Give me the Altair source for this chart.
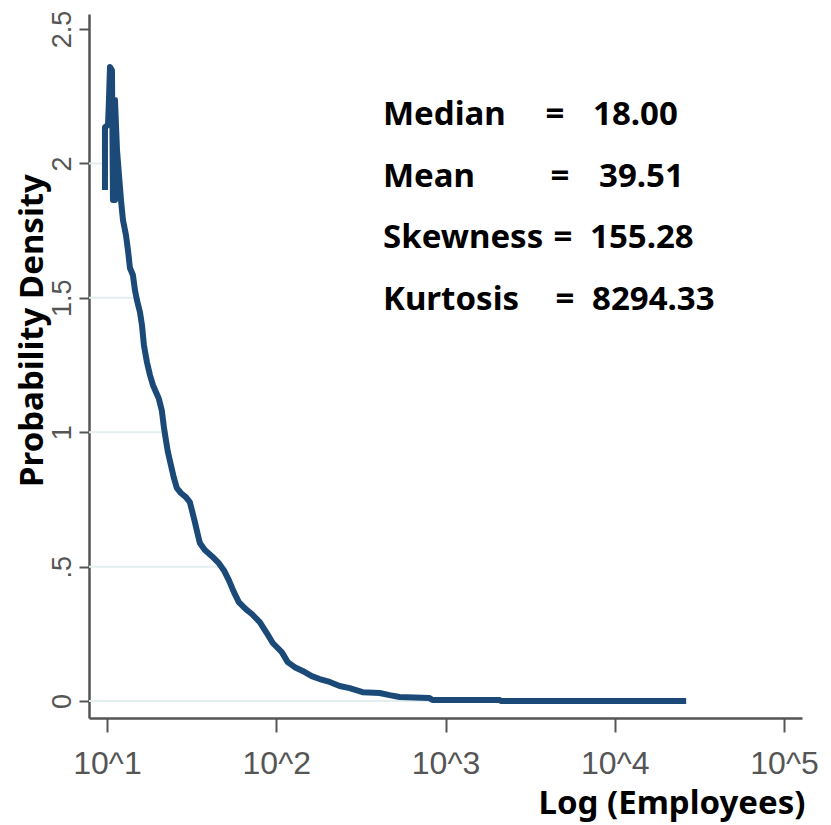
import altair as alt
import pandas as pd

# Kernel density of firm size, listed in drawing order along the curve
employees = [9.73, 9.73, 10.14, 10.27, 10.42, 10.70, 10.85, 11.15, 11.15, 11.46,
             11.77, 12.10, 12.43, 12.94, 13.30, 13.67, 14.23, 14.63, 15.03, 15.66,
             16.09, 16.53, 17.22, 17.94, 18.68, 19.46, 20.27, 21.11, 21.69, 22.29,
             22.91, 23.86, 24.85, 25.88, 27.33, 29.25, 30.87, 31.73, 33.05, 34.43,
             35.38, 37.86, 41.65, 45.80, 49.02, 52.46, 56.14, 60.09, 66.09, 71.71,
             79.94, 87.91, 95.37, 107.8, 116.9, 128.6, 143.3, 162.0, 180.6, 206.9,
             236.9, 271.4, 323.9, 408.0, 467.3, 535.3, 804.6, 838.0, 2083, 2140, 26410]
density = [1.901, 2.135, 2.143, 2.236, 2.359, 2.347, 1.864, 1.864, 2.236, 2.050,
           1.957, 1.864, 1.789, 1.734, 1.678, 1.611, 1.585, 1.529, 1.492, 1.447,
           1.399, 1.324, 1.261, 1.213, 1.176, 1.150, 1.124, 1.079, 1.019, 0.971,
           0.926, 0.878, 0.830, 0.792, 0.774, 0.759, 0.740, 0.711, 0.666, 0.618,
           0.588, 0.562, 0.539, 0.513, 0.487, 0.450, 0.406, 0.368, 0.342, 0.324,
           0.294, 0.253, 0.216, 0.182, 0.145, 0.126, 0.112, 0.093, 0.082, 0.071,
           0.056, 0.048, 0.033, 0.030, 0.022, 0.015, 0.011, 0.004, 0.004, 0.0, 0.0]

# Faint reference lines and where each one stops
grid_levels = [0.0, 0.5, 1.0, 1.5, 2.0]
grid_ends = [26410, 49.0, 22.0, 15.0, 9.7]

# Summary statistics shown in the upper right
stat_names = ["Median", "Mean", "Skewness", "Kurtosis"]
stat_values = ["18.00", "39.51", "155.28", "8294.33"]

y_ticks = [0, 0.5, 1, 1.5, 2, 2.5]
x_ticks = [10, 100, 1000, 10000, 100000]

curve = pd.DataFrame({"employees": employees, "density": density,
                      "step": list(range(len(employees)))})
grid = pd.DataFrame({"level": grid_levels, "end": grid_ends})

LINE_COLOR = "#1b4a78"
AXIS_COLOR = "#555555"
LABEL_FONT = "Liberation Sans, Arial, sans-serif"
BOLD_FONT = "Noto Sans, Open Sans, sans-serif"

x_scale = alt.Scale(type="log", domain=[7.83, 127700], nice=False)
y_scale = alt.Scale(domain=[-0.063, 2.556], nice=False, zero=False)

x_axis = alt.Axis(
    values=x_ticks,
    labelExpr="'10^' + format(log(datum.value) / LN10, '.0f')",
    title="Log (Employees)",
    titleFont=BOLD_FONT,
    titleFontSize=33,
    titleFontWeight="bold",
    titleColor="#000000",
    titleAlign="right",
    titleBaseline="alphabetic",
    titleX=716,
    titleY=95,
    labelFont=LABEL_FONT,
    labelFontSize=32,
    labelColor=AXIS_COLOR,
    labelPadding=41,
    labelBaseline="alphabetic",
    labelFlush=False,
    labelOverlap=False,
    tickSize=14,
    tickWidth=2,
    tickColor=AXIS_COLOR,
    domainColor=AXIS_COLOR,
    domainWidth=2.5,
    grid=False,
)

y_axis = alt.Axis(
    values=y_ticks,
    labelExpr="datum.value == 0.5 ? '.5' : format(datum.value, '~g')",
    title="Probability Density",
    titleFont=BOLD_FONT,
    titleFontSize=33,
    titleFontWeight="bold",
    titleColor="#000000",
    titleAngle=270,
    titleAlign="center",
    titleBaseline="alphabetic",
    titleX=-47,
    titleY=316,
    labelFont=LABEL_FONT,
    labelFontSize=27,
    labelColor=AXIS_COLOR,
    labelAngle=270,
    labelAlign="center",
    labelBaseline="alphabetic",
    labelPadding=9,
    labelFlush=False,
    labelOverlap=False,
    tickSize=10,
    tickWidth=2,
    tickColor=AXIS_COLOR,
    domainColor=AXIS_COLOR,
    domainWidth=2.5,
    grid=False,
)

grid_layer = alt.Chart(grid).mark_rule(color="#e4eeee", strokeWidth=2).encode(
    x=alt.X("end:Q", scale=x_scale, axis=x_axis),
    x2=alt.value(0),
    y=alt.Y("level:Q", scale=y_scale, axis=y_axis),
)

line_layer = alt.Chart(curve).mark_line(
    color=LINE_COLOR, strokeWidth=6, strokeJoin="round"
).encode(
    x=alt.X("employees:Q", scale=x_scale, axis=x_axis),
    y=alt.Y("density:Q", scale=y_scale, axis=y_axis),
    order="step:Q",
)

# Statistic block: name, equals sign and value on each row
row_baselines = [111, 173, 234, 296]
eq_centers = [466, 471, 474, 476]
value_starts = [504, 510, 501, 503]

text_layers = []
for name, val, yb, xe, xv in zip(stat_names, stat_values, row_baselines, eq_centers, value_starts):
    row = pd.DataFrame({"name": [name], "eq": ["="], "val": [val]})
    base = alt.Chart(row)
    style = dict(font=BOLD_FONT, fontSize=33, fontWeight="bold", color="#000000",
                 baseline="alphabetic")
    text_layers.append(base.mark_text(align="left", **style).encode(
        x=alt.value(294), y=alt.value(yb), text="name:N"))
    text_layers.append(base.mark_text(align="center", **style).encode(
        x=alt.value(xe), y=alt.value(yb), text="eq:N"))
    text_layers.append(base.mark_text(align="left", **style).encode(
        x=alt.value(xv), y=alt.value(yb), text="val:N"))

chart = alt.layer(grid_layer, line_layer, *text_layers).properties(
    width=713,
    height=704,
    autosize=alt.AutoSizeParams(type="none"),
    padding={"left": 89, "top": 14, "right": 29, "bottom": 107},
    background="#ffffff",
).configure_view(stroke=None)

chart.save("out.html", embed_options={"renderer": "svg", "actions": False})
